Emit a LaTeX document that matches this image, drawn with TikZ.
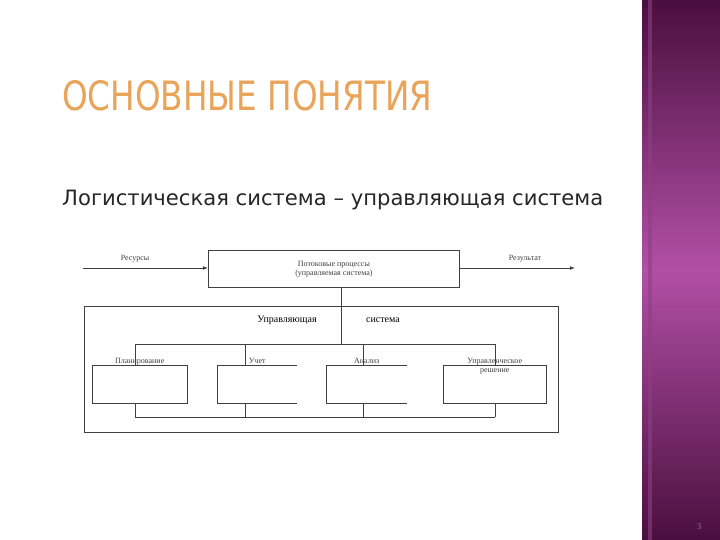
\documentclass[tikz,border=0pt]{standalone}
\usepackage{fontspec}
\setmainfont{Liberation Serif}
\newfontfamily\titlefont{DejaVu Sans}
\usetikzlibrary{arrows.meta}
\definecolor{pdark}{HTML}{4A0F3E}
\definecolor{pmid}{HTML}{B24FA6}
\definecolor{ttl}{HTML}{E9A45A}
\begin{document}
\begin{tikzpicture}[x=1pt,y=-1pt,
  ln/.style={draw=black!75,line width=0.8pt},
  lbl/.style={font=\fontsize{8}{9}\selectfont,text=black!75,inner sep=0pt,align=center},
  bx/.style={minimum height=38pt,inner sep=0pt,anchor=north west}]
\useasboundingbox (0,0) rectangle (720,540);
\fill[white] (0,0) rectangle (720,540);
\shade[top color=pdark,bottom color=pmid] (642,0) rectangle (720,270);
\shade[top color=pmid,bottom color=pdark] (642,270) rectangle (720,540);
\fill[pmid!80!black,opacity=0.6] (648,0) rectangle (652,540);
\node[text=pdark!60,font=\fontsize{9}{9}\selectfont] (pg) at (699,527) {3};
% title
\node[anchor=west,inner sep=0pt] (title) at (62,96) {\resizebox{370pt}{30pt}{\titlefont\color{ttl}ОСНОВНЫЕ ПОНЯТИЯ}};
\node[anchor=west,inner sep=0pt] (sub) at (62,200) {\resizebox{541pt}{!}{\titlefont\color{black!85}\fontsize{17}{20}\selectfont Логистическая система – управляющая система}};
% top box
\node[draw=black!75,line width=0.8pt,minimum width=251pt,minimum height=37pt,inner sep=0pt,anchor=north west] (top) at (208,250) {};
\node[lbl] (toplbl) at (top.center) {Потоковые процессы\\(управляемая система)};
\coordinate (inL) at (83,268);
\coordinate (outR) at (575,268);
\draw[ln,-{Latex[length=5pt]}] (inL) -- (top.west |- inL);
\draw[ln,-{Latex[length=5pt]}] (top.east |- outR) -- (outR);
\node[lbl] (res) at (135,259) {Ресурсы};
\node[lbl] (rez) at (525,259) {Результат};
% outer box
\node[draw=black!75,line width=0.8pt,minimum width=474pt,minimum height=126pt,inner sep=0pt,anchor=north west] (outer) at (84,306) {};
\node[font=\fontsize{10}{11}\selectfont,inner sep=0pt] (u1) at (287,320) {Управляющая};
\node[font=\fontsize{10}{11}\selectfont,inner sep=0pt] (u2) at (383,320) {система};
% boxes
\node[bx,minimum width=95pt] (b1) at (92,365) {};
\node[bx,minimum width=80pt] (b2) at (217,365) {};
\node[bx,minimum width=81pt] (b3) at (326,365) {};
\node[bx,minimum width=103pt] (b4) at (443,365) {};
\draw[ln] (b1.north west) rectangle (b1.south east);
\draw[ln] (b4.north west) rectangle (b4.south east);
\draw[ln] (b2.north east) -- (b2.north west) -- (b2.south west) -- (b2.south east);
\draw[ln] (b3.north east) -- (b3.north west) -- (b3.south west) -- (b3.south east);
\node[lbl,anchor=north] (t1) at ([yshift=7pt]b1.north) {Планирование};
\node[lbl,anchor=north] (t2) at ([yshift=7pt]b2.north) {Учет};
\node[lbl,anchor=north] (t3) at ([yshift=7pt]b3.north) {Анализ};
\node[lbl,anchor=north] (t4) at ([yshift=7pt]b4.north) {Управленческое\\решение};
% buses
\coordinate (bt) at (341,344);
\draw[ln] (top.south -| bt) -- (bt);
\draw[ln] (135,344) -- (495,344);
\draw[ln] (135,417) -- (495,417);
\foreach \xx/\bn in {135/b1,245/b2,363/b3,495/b4}{
  \draw[ln] (\xx,344) -- (\bn.north -| \xx,0);
  \draw[ln] (\bn.south -| \xx,0) -- (\xx,417);
}
\end{tikzpicture}
\end{document}
